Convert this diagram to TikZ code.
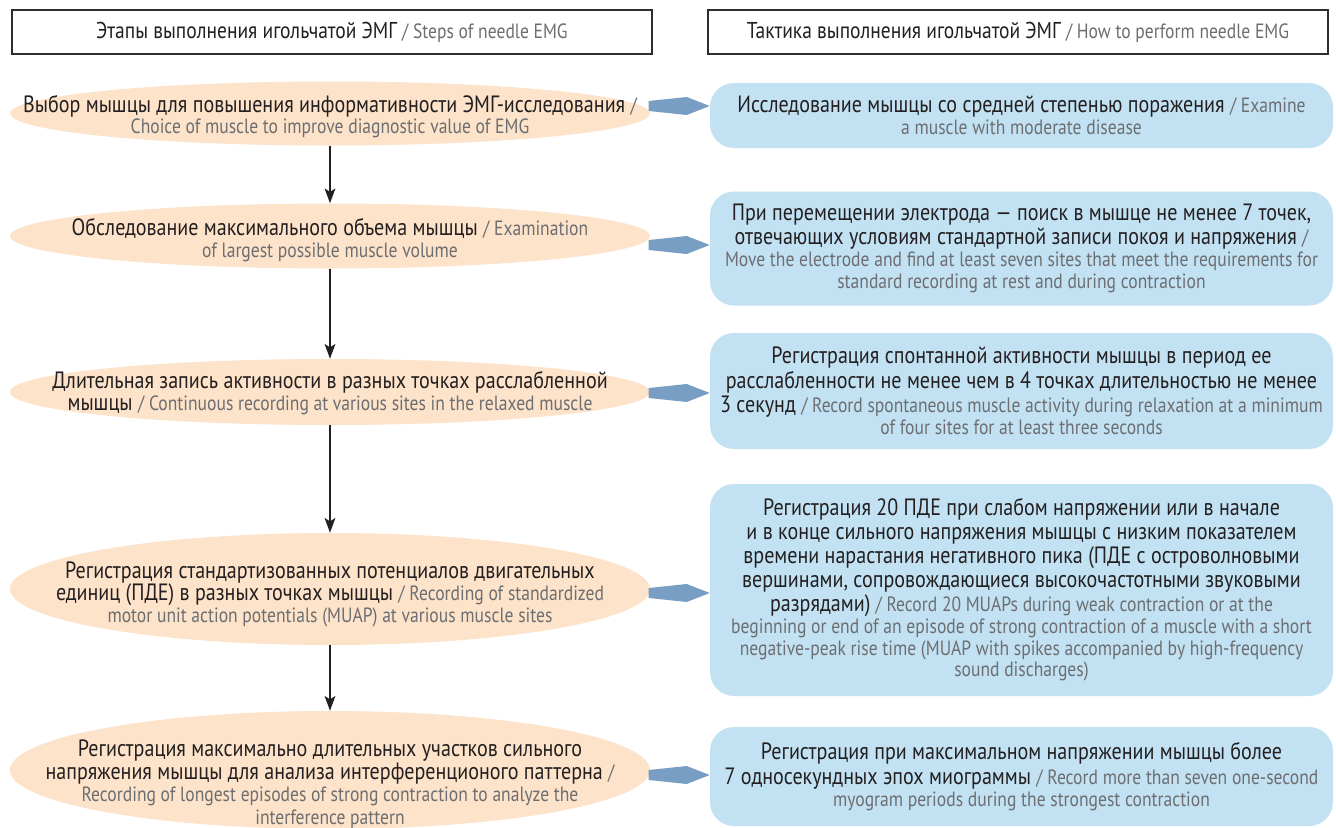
\documentclass[tikz,border=0pt]{standalone}
\usepackage{fontspec}
\setmainfont{PT Sans}[FakeStretch=0.85]
\usetikzlibrary{arrows.meta,shapes.geometric,calc}
\definecolor{tblack}{HTML}{231F20}
\definecolor{tgray}{HTML}{6D6E71}
\definecolor{peach}{HTML}{FDE3C9}
\definecolor{lblue}{HTML}{C2E2F3}
\definecolor{arrowc}{HTML}{789FC3}
\definecolor{frame}{HTML}{2E2E2E}
\newcommand\gr[1]{{\color{tgray}\fontsize{15.5}{16}\selectfont #1}}
\newcommand\mainfs{\fontsize{17.7}{18}\selectfont\lineskiplimit=-20pt\lineskip=0pt}
\tikzset{
  x=0.75pt, y=-0.75pt,
  txt/.style={align=center, text=tblack, font=\mainfs, inner sep=0pt},
  header/.style={draw=frame, line width=1.5pt, fill=white, minimum height=33pt, inner sep=0pt, align=center, text=tblack, font=\fontsize{17.2}{17.5}\selectfont},
  stage/.style={ellipse, fill=peach, minimum width=480pt, inner sep=0pt},
  tactic/.style={rounded corners=18pt, fill=lblue, minimum width=467.25pt, inner sep=0pt, align=center, text=tblack, font=\mainfs},
  flow/.style={line width=1.5pt, draw=tblack, -{Stealth[length=11pt,width=8pt,inset=2.5pt]}},
  blockarrow/.style={fill=arrowc}
}
\newcommand\blockarr[1]{\fill[blockarrow] (#1) -- ++(-23,-9) -- ++(-38,4) -- ++(0,10) -- ++(38,4) -- cycle;}
\begin{document}
\begin{tikzpicture}
\useasboundingbox (0,0) rectangle (1336,828);
\fill[white] (0,0) rectangle (1336,828);

% headers
\node[header, minimum width=480pt] (h1) at (332,32) {Этапы выполнения игольчатой ЭМГ \gr{/ Steps of needle EMG}};
\node[header, minimum width=465pt] (h2) at (1018,32) {Тактика выполнения игольчатой ЭМГ \gr{/ How to perform needle EMG}};

% stages (ellipses)
\node[stage, minimum height=48pt] (e1) at (330,113.5) {};
\node[stage, minimum height=48.75pt] (e2) at (330,236) {};
\node[stage, minimum height=49.5pt] (e3) at (330,392) {};
\node[stage, minimum height=84pt] (e4) at (330,589) {};
\node[stage, minimum height=88.5pt] (e5) at (330,770) {};

\node[txt] (t1) at ($(e1.center)+(0,3)$) {Выбор мышцы для повышения информативности ЭМГ-исследования \gr{/}\\[-1.8pt]
\gr{Choice of muscle to improve diagnostic value of EMG}};
\node[txt] (t2) at ($(e2.center)+(0,4)$) {Обследование максимального объема мышцы \gr{/ Examination}\\[-1.8pt]
\gr{of largest possible muscle volume}};
\node[txt] (t3) at ($(e3.center)+(0,1)$) {Длительная запись активности в разных точках расслабленной\\[-1pt]
мышцы \gr{/ Continuous recording at various sites in the relaxed muscle}};
\node[txt] (t4) at ($(e4.center)+(0,5)$) {Регистрация стандартизованных потенциалов двигательных\\[-1pt]
единиц (ПДЕ) в разных точках мышцы \gr{/ Recording of standardized}\\[-2pt]
\gr{motor unit action potentials (MUAP) at various muscle sites}};
\node[txt] (t5) at ($(e5.center)+(0,14)$) {Регистрация максимально длительных участков сильного\\[-0.5pt]
напряжения мышцы для анализа интерференционого паттерна \gr{/}\\[-1.2pt]
\gr{Recording of longest episodes of strong contraction to analyze the}\\[-1.2pt]
\gr{interference pattern}};

% tactics (rounded boxes)
\node[tactic, minimum height=48.75pt] (b1) at (1021.5,115.5) {Исследование мышцы со средней степенью поражения \gr{/ Examine}\\[-1.8pt]
\gr{a muscle with moderate disease}};
\node[tactic, minimum height=85.5pt] (b2) at (1021.5,248.5) {При перемещении электрода — поиск в мышце не менее 7 точек,\\[-0.5pt]
отвечающих условиям стандартной записи покоя и напряжения \gr{/}\\[-1.5pt]
\gr{Move the electrode and find at least seven sites that meet the requirements for}\\[-1.5pt]
\gr{standard recording at rest and during contraction}};
\node[tactic, minimum height=87pt] (b3) at (1021.5,391) {Регистрация спонтанной активности мышцы в период ее\\[0.5pt]
расслабленности не менее чем в 4 точках длительностью не менее\\
3 секунд \gr{/ Record spontaneous muscle activity during relaxation at a minimum}\\[-1.5pt]
\gr{of four sites for at least three seconds}};
\node[tactic, minimum height=159pt] (b4) at (1021.5,590) {Регистрация 20 ПДЕ при слабом напряжении или в начале\\
и в конце сильного напряжения мышцы с низким показателем\\
времени нарастания негативного пика (ПДЕ с островолновыми\\
вершинами, сопровождающиеся высокочастотными звуковыми\\
разрядами) \gr{/ Record 20 MUAPs during weak contraction or at the}\\[-1.6pt]
\gr{beginning or end of an episode of strong contraction of a muscle with a short}\\[-1.9pt]
\gr{negative-peak rise time (MUAP with spikes accompanied by high-frequency}\\[-1.9pt]
\gr{sound discharges)}};
\node[tactic, minimum height=74.25pt] (b5) at (1021.5,776.5) {Регистрация при максимальном напряжении мышцы более\\[0.5pt]
7 односекундных эпох миограммы \gr{/ Record more than seven one-second}\\[-1.5pt]
\gr{myogram periods during the strongest contraction}};

% flow arrows
\draw[flow] (e1.south) -- (e2.north);
\draw[flow] (e2.south) -- (e3.north);
\draw[flow] (e3.south) -- (e4.north);
\draw[flow] (e4.south) -- (e5.north);

% block arrows to tactics
\coordinate (a1) at ($(b1.west)+(0,-9.5)$);
\coordinate (a2) at ($(b2.west)+(0,-3.5)$);
\coordinate (a3) at ($(b3.west)+(0,2)$);
\coordinate (a4) at ($(b4.west)+(0,3)$);
\coordinate (a5) at ($(b5.west)+(0,-1.5)$);
\blockarr{a1}
\blockarr{a2}
\blockarr{a3}
\blockarr{a4}
\blockarr{a5}
\end{tikzpicture}
\end{document}
